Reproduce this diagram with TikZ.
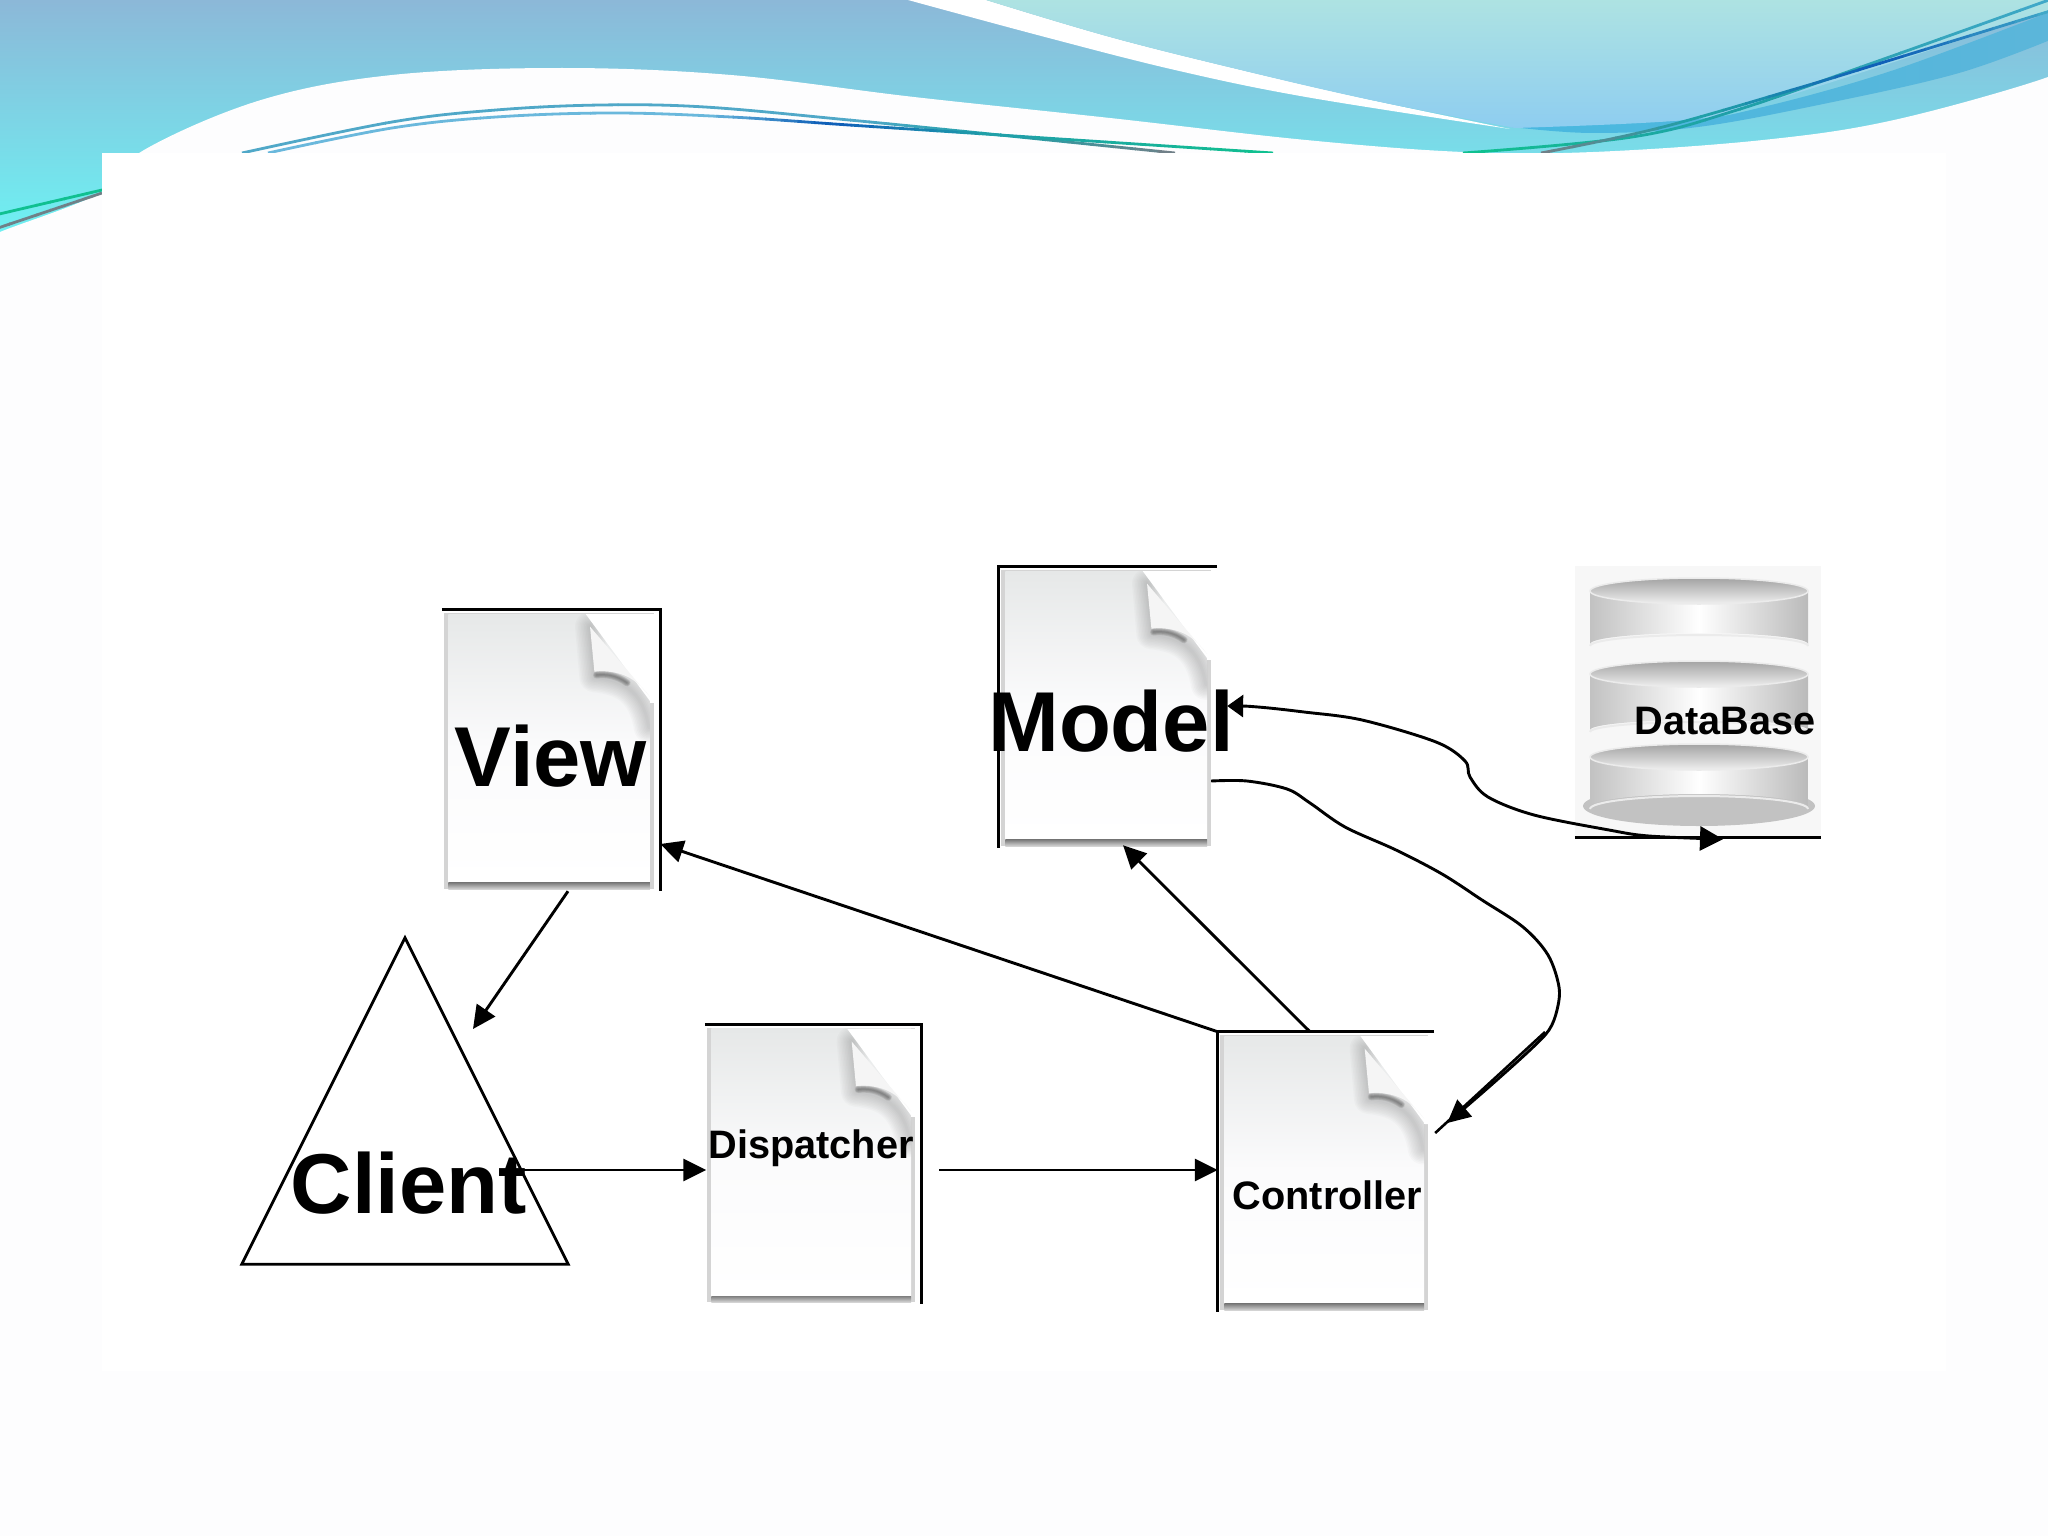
\documentclass[tikz,border=0pt]{standalone}
\usepackage{fontspec}
\setmainfont{Liberation Sans}
\usetikzlibrary{arrows.meta,calc}
\definecolor{pagebg}{HTML}{FDFDFE}
\definecolor{headtop}{HTML}{8CB8D8}
\definecolor{headbot}{HTML}{6EF0F2}
\definecolor{lighttop}{HTML}{AEE3E2}
\definecolor{lightbot}{HTML}{8ECDF0}
\definecolor{bandl}{HTML}{48B8E0}
\definecolor{bandr}{HTML}{5CB6DA}
\definecolor{lnA}{HTML}{50A8C8}
\definecolor{lnB}{HTML}{6AB8DC}
\definecolor{lnBlue}{HTML}{1060B8}
\definecolor{lnTeal}{HTML}{20A0A8}
\definecolor{lnGreen}{HTML}{10C090}
\definecolor{lnGray}{HTML}{708088}
\definecolor{lnSky}{HTML}{40A8C8}
\definecolor{docedge}{HTML}{D4D4D4}
\definecolor{doctop}{HTML}{E6E8E8}
\definecolor{docmid}{HTML}{FBFBFC}
\definecolor{dbbg}{HTML}{F7F7F7}
\newcommand{\gline}[2]{%
  \foreach \xa/\xb/\ca/\cb in {#2}{%
    \foreach \k in {0,...,7}{%
      \pgfmathsetmacro{\sa}{\xa+(\xb-\xa)*\k/8}%
      \pgfmathsetmacro{\sb}{\xa+(\xb-\xa)*(\k+1)/8+1}%
      \pgfmathsetmacro{\mx}{100-\k*100/7}%
      \begin{scope}
        \clip (\sa,-10) rectangle (\sb,300);
        \draw[line width=2.8pt,color=\ca!\mx!\cb] plot[smooth,tension=.6] coordinates {#1};
      \end{scope}
    }%
  }%
}
\newcommand{\docicon}[3]{%
  \begin{scope}[shift={(#1.north west)},x=#2pt,y=-#3pt]
    \fill[white] (0,0) rectangle (1,1);
    \fill[docedge] (.012,.01) rectangle (.975,.995);
    \shade[top color=doctop,bottom color=white,middle color=docmid] (.03,.015) rectangle (.955,.972);
    \begin{scope}
      \clip (.03,.015) rectangle (.955,.972);
      \foreach \w in {3,6,...,30}{
        \draw[line width=\w pt,color=black!60,opacity=.03,line join=round,line cap=round]
          (.68,.06) -- (.70,.24) .. controls (.82,.25) and (.92,.28) .. (.95,.42);
      }
    \end{scope}
    \fill[white] (.66,.015) -- (1,.015) -- (1,.33) -- (.96,.33) -- cycle;
    \fill[white] (.955,.015) rectangle (.975,.33);
    \fill[color=black!4] (.68,.06) -- (.70,.22) .. controls (.80,.215) and (.88,.23) .. (.955,.31) -- cycle;
    \foreach \w in {1,2.5,4,5.5,7}{
      \draw[line width=\w pt,color=black!70,opacity=.15,line cap=round]
        (.71,.232) .. controls (.75,.228) and (.80,.232) .. (.85,.26);
    }
    \shade[top color=black!50,bottom color=black!15] (.03,.972) rectangle (.955,.995);
  \end{scope}%
}
\newcommand{\dbcyl}[3]{%
  \shade[left color=black!24,right color=black!27,middle color=white]
    (1590,#1) -- (1590,#1+#2) arc[start angle=180,end angle=360,x radius=109,y radius=#3] -- (1808,#1) -- cycle;
  \draw[color=black!8,line width=2pt] (1590,#1+#2+2) arc[start angle=180,end angle=360,x radius=109,y radius=#3];
  \shade[top color=black!36,bottom color=black!6,draw=black!8,line width=1.5pt] (1699,#1) ellipse[x radius=109,y radius=13];
}
\tikzset{
  wire/.style={line width=2.9pt,color=black},
  wired/.style={wire,-{Triangle[length=23pt,width=22pt]}},
  edge line/.style={line width=2.7pt,color=black,line cap=butt},
  docbox/.style={rectangle,inner sep=0pt,draw=none},
  biglbl/.style={font=\bfseries\fontsize{85}{85}\selectfont,inner sep=0pt,anchor=base},
  smalllbl/.style={font=\bfseries\fontsize{39.7}{40}\selectfont,inner sep=0pt,anchor=base},
}
\begin{document}
\begin{tikzpicture}[x=1pt,y=-1pt]
\useasboundingbox (0,0) rectangle (2048,1536);
\begin{scope}
\clip (0,0) rectangle (2048,1536);
\fill[pagebg] (0,0) rectangle (2048,1536);
% header
\shade[top color=headtop,bottom color=headbot] (0,0) rectangle (2048,232);
\fill[pagebg] plot[smooth,tension=.6] coordinates {(-10,240) (0,232) (102,192) (144,150) (261,100) (392,75) (562,68) (731,75) (914,97) (1110,118) (1306,140) (1463,152) (1593,152) (1763,140) (1894,120) (2048,77) (2060,60)} -- (2060,300) -- (-10,300) -- cycle;
\fill[pagebg] (-5,232) rectangle (2055,300);
\fill[white] plot[smooth,tension=.6] coordinates {(908,0) (1045,37) (1175,70) (1306,97) (1510,129)} -- plot[smooth,tension=.6] coordinates {(1510,129) (1371,100) (1241,70) (1110,37) (986,0)} -- cycle;
\shade[left color=bandl,right color=bandr] plot[smooth,tension=.6] coordinates {(1512,127) (1593,133) (1698,127) (1828,103) (1959,73) (2055,38)} -- (2055,10) -- plot[smooth,tension=.6] coordinates {(2055,10) (1894,70) (1763,107) (1685,120) (1512,127)} -- cycle;
\shade[top color=lighttop,bottom color=lightbot] plot[smooth,tension=.6] coordinates {(986,0) (1110,37) (1241,70) (1371,100) (1515,128)} -- plot[smooth,tension=.6] coordinates {(1515,128) (1685,120) (1763,103) (1894,62) (2055,8)} -- (2055,-2) -- (986,-2) -- cycle;
\gline{(242,153) (392,122) (496,110) (601,105) (705,107) (849,120) (980,133) (1175,153)}{230/850/lnA/lnA,850/1000/lnA/lnTeal,1000/1180/lnTeal/lnGray}
\gline{(268,153) (392,128) (496,117) (614,113) (731,117) (849,125) (1045,138) (1273,153)}{260/700/lnB/lnB,700/830/lnB/lnBlue,830/1000/lnBlue/lnTeal,1000/1280/lnTeal/lnGreen}
\gline{(1463,153) (1632,137) (1737,110) (1881,60) (2060,-4)}{1460/1740/lnGreen/lnTeal,1740/2060/lnTeal/lnSky}
\gline{(1541,153) (1659,128) (1802,87) (1881,63) (2060,8)}{1530/1700/lnGray/lnTeal,1700/1880/lnTeal/lnBlue,1880/2060/lnBlue/lnSky}
\gline{(-5,215) (102,190)}{-5/105/lnGreen/lnGreen}
\gline{(-5,229) (102,193)}{-5/105/lnGray/lnGray}
% panel
\fill[white] (102,153) rectangle (1946,1371);
\end{scope}
% documents
\node[docbox,minimum width=218pt,minimum height=281pt] (view) at (551,750.5) {};
\node[docbox,minimum width=218pt,minimum height=281pt] (model) at (1108,707.5) {};
\node[docbox,minimum width=216pt,minimum height=279pt] (dispatcher) at (813,1164.5) {};
\node[docbox,minimum width=216pt,minimum height=280pt] (controller) at (1326,1172) {};
\node[docbox,minimum width=246pt,minimum height=271pt] (database) at (1698,701.5) {};
\node[docbox,minimum width=326pt,minimum height=326pt] (client) at (405,1101) {};
\docicon{view}{218}{281}
\docicon{model}{218}{281}
\docicon{dispatcher}{216}{279}
\docicon{controller}{216}{280}
\draw[edge line] (view.north west) -- (view.north east) -- (view.south east);
\draw[edge line] (model.north east) -- (model.north west) -- (model.south west);
\draw[edge line] (dispatcher.north west) -- (dispatcher.north east) -- (dispatcher.south east);
\draw[edge line] (controller.north east) -- (controller.north west) -- (controller.south west);
% database
\fill[dbbg] (database.north west) rectangle (database.south east);
\fill[color=black!24] (1699,806) ellipse[x radius=116,y radius=20];
\dbcyl{757}{50}{13}
\dbcyl{674}{56}{10}
\dbcyl{591}{53}{11}
\draw[edge line] (database.south west) -- (database.south east);
% client triangle
\draw[line width=2.8pt,line join=miter] (client.north) -- (client.south west) -- (client.south east) -- cycle;
% connectors
\draw[wired] ([xshift=17pt]view.south) -- ([xshift=68pt,yshift=72pt]client.center);
\draw[wired] ([xshift=117pt,yshift=-69pt]client.center) -- ([xshift=1.5pt,yshift=-5.5pt]dispatcher.west);
\draw[wired] ([xshift=18pt,yshift=-5.5pt]dispatcher.east) -- ([yshift=2pt]controller.west);
\draw[wired] (controller.north west) -- ([yshift=-93.5pt]view.east);
\draw[wired] ([xshift=-16pt]controller.north) -- ([xshift=15pt,yshift=3pt]model.south);
\coordinate (modelOut) at ([xshift=-6pt,yshift=-73.5pt]model.east);
\coordinate (modelIn) at ([xshift=10pt,yshift=1.5pt]model.east);
\coordinate (ctrlIn) at ([xshift=13pt,yshift=49pt]controller.east);
\coordinate (ctrlEdge) at ([xshift=1pt,yshift=39pt]controller.east);
\coordinate (dbIn) at ([xshift=25pt,yshift=-2pt]database.south);
\coordinate (wireEnd) at (1545,1032);
\draw[wired] plot[smooth,tension=.55] coordinates {(modelOut) (1247,781) (1287,789) (1310,803) (1345,827) (1396,850) (1442,874) (1482,900) (1523,927) (1548,955) (1559,987) (1557,1010) (1549,1030) (1530,1050) (1490,1086) (ctrlIn)};
\draw[line width=2.6pt] (ctrlEdge) -- (wireEnd);
\draw[wire,{Triangle[length=16pt,width=22pt]}-{Triangle[length=23pt,width=24pt]}] plot[smooth,tension=.55] coordinates {(modelIn) (1258,707) (1304,712) (1362,720) (1436,742) (1465,761) (1470,777) (1488,797) (1534,815) (1609,830) (1649,836) (dbIn)};
% labels
\node[biglbl] (viewlbl) at (551,786) {View};
\node[biglbl] (modellbl) at (1111,751) {Model};
\node[biglbl] (clientlbl) at (409,1213) {Client};
\node[smalllbl] (displbl) at (811,1158) {Dispatcher};
\node[smalllbl] (ctrllbl) at (1327.5,1209) {Controller};
\node[smalllbl] (dblbl) at (1725,734) {DataBase};
\end{tikzpicture}
\end{document}
